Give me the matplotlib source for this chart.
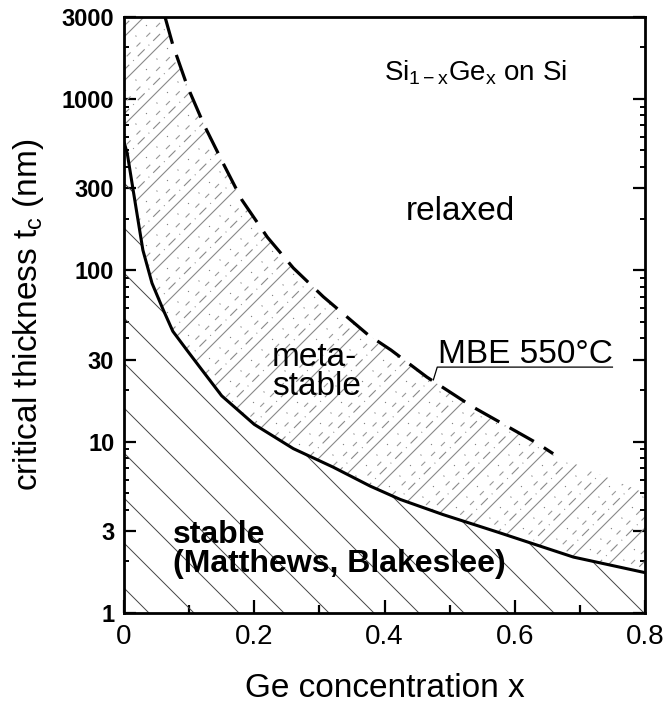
import numpy as np
import matplotlib
matplotlib.use('Agg')
import matplotlib.pyplot as plt
from matplotlib.patches import Polygon
from matplotlib.ticker import FixedLocator, NullFormatter

plt.rcParams['font.family'] = ['Liberation Sans', 'DejaVu Sans']
plt.rcParams['mathtext.fontset'] = 'custom'
plt.rcParams['mathtext.rm'] = 'Liberation Sans'
plt.rcParams['mathtext.it'] = 'Liberation Sans'
plt.rcParams['lines.scale_dashes'] = False

# Matthews-Blakeslee critical thickness (solid line)
mb_x = [0, 0.005, 0.014, 0.029, 0.043, 0.06, 0.075, 0.097, 0.117, 0.15, 0.2, 0.26,
        0.321, 0.378, 0.424, 0.49, 0.573, 0.69, 0.8]
mb_y = [560, 480, 294, 131, 84, 59, 44, 34, 27, 18.5, 12.6, 9.1,
        7.1, 5.5, 4.6, 3.75, 2.97, 2.12, 1.72]

# MBE at 550 C (dashed line)
mbe_x = [0.063, 0.075, 0.097, 0.123, 0.152, 0.181, 0.22, 0.26, 0.306, 0.375,
         0.41, 0.465, 0.536, 0.593, 0.634, 0.659]
mbe_y = [3000, 2060, 1190, 703, 422, 257, 156, 103, 70, 41.9,
         34.2, 23.8, 15.9, 12, 9.8, 8.5]

# the metastable hatching goes on past the end of the dashed line
ext_x = [0.7, 0.75, 0.8]
ext_y = [7.2, 6.0, 5.0]

x_ticks = [0, 0.2, 0.4, 0.6, 0.8]
x_minor = [0.1, 0.3, 0.5, 0.7]
y_ticks = [1, 3, 10, 30, 100, 300, 1000, 3000]
y_minor = [2, 4, 5, 6, 7, 8, 9, 20, 40, 50, 60, 70, 80, 90,
           200, 400, 500, 600, 700, 800, 900, 2000]

fig = plt.figure(figsize=(6.67, 7.09), dpi=100)
ax = fig.add_axes([124/667, 96/709, 521/667, 596/709])
ax.set_yscale('log')
ax.set_xlim(0, 0.8)
ax.set_ylim(1, 3000)

W = ax.bbox.width
H = ax.bbox.height

# regions
stable_pts = list(zip(mb_x, mb_y)) + [(0.8, 1), (0, 1)]
top_x = [0] + mbe_x + ext_x
top_y = [3000] + mbe_y + ext_y
meta_pts = list(zip(mb_x, mb_y)) + list(zip(top_x[::-1], top_y[::-1]))

stable_poly = Polygon(stable_pts, closed=True, fill=False, lw=0, transform=ax.transData)
meta_poly = Polygon(meta_pts, closed=True, fill=False, lw=0, transform=ax.transData)
ax.add_patch(stable_poly)
ax.add_patch(meta_poly)


def hatch(poly, sign, spacing, offset, **kw):
    # straight 45 degree lines (in pixels), clipped to the region
    for a in np.arange(-H - 200 + offset, W + H + 200, spacing):
        x0 = a / W
        x1 = (a + sign * H) / W
        ln, = ax.plot([x0, x1], [0, 1], transform=ax.transAxes, **kw)
        ln.set_clip_path(poly)


# stable: "\" lines
hatch(stable_poly, -1, 45, 11, color='#444444', lw=0.7)

# metastable: "/" lines, solid + dotted + dashed + dash-dot
P = 44
hatch(meta_poly, 1, P, 0, color='#888888', lw=0.8)
hatch(meta_poly, 1, P, 11, color='#777777', lw=0.9, linestyle=(0, (0.7, 10)))
hatch(meta_poly, 1, P, 22, color='#999999', lw=0.8, linestyle=(0, (4, 6)))
hatch(meta_poly, 1, P, 33, color='#8a8a8a', lw=0.8, linestyle=(0, (7, 4, 0.7, 4)))

# curves
ax.plot(mb_x, mb_y, color='black', lw=2.2, solid_capstyle='butt')
ax.plot(mbe_x, mbe_y, color='black', lw=2.3, linestyle=(0, (20, 8.5)))

# labels in the plot
ax.text(0.539, 1414, 'Si$_{\\mathrm{1-x}}$Ge$_{\\mathrm{x}}$ on Si', fontsize=20,
        ha='center', va='center')
ax.text(0.516, 219, 'relaxed', fontsize=24, ha='center', va='center')
ax.text(0.227, 25.5, 'meta-\nstable', fontsize=24, ha='left', va='center',
        linespacing=0.95)
ax.text(0.617, 28.7, 'MBE 550°C', fontsize=24, ha='center', va='baseline')
ax.plot([0.75, 0.481, 0.475], [27.2, 27.2, 22.9], color='black', lw=0.9)
ax.text(0.075, 2.35, 'stable\n(Matthews, Blakeslee)', fontsize=23,
        fontweight='bold', ha='left', va='center', linespacing=0.95)

# axes
for s in ax.spines.values():
    s.set_linewidth(2.0)

ax.xaxis.set_major_locator(FixedLocator(x_ticks))
ax.xaxis.set_minor_locator(FixedLocator(x_minor))
ax.set_xticklabels(['0', '0.2', '0.4', '0.6', '0.8'],
                   family=['Liberation Sans Narrow', 'Liberation Sans'], fontsize=20)
ax.yaxis.set_major_locator(FixedLocator(y_ticks))
ax.yaxis.set_minor_locator(FixedLocator(y_minor))
ax.yaxis.set_minor_formatter(NullFormatter())
ax.set_yticklabels([str(v) for v in y_ticks],
                   family=['Liberation Sans Narrow', 'Liberation Sans'],
                   fontweight='bold', fontsize=17)

ax.tick_params(axis='x', which='both', direction='in', top=False, bottom=True, pad=8)
ax.tick_params(axis='x', which='major', length=9.5, width=1.6)
ax.tick_params(axis='x', which='minor', length=5.8, width=1.6)
ax.tick_params(axis='y', which='both', direction='in', left=True, right=True, pad=7)
ax.tick_params(axis='y', which='major', length=8.5, width=1.6)
ax.tick_params(axis='y', which='minor', length=3.8, width=1.4)

ax.set_xlabel('Ge concentration x', fontsize=24)
ax.set_ylabel('critical thickness t$_\\mathrm{c}$ (nm)', fontsize=24)
ax.xaxis.set_label_coords(0.5, -0.1)
ax.yaxis.set_label_coords(-0.15, 0.5)

fig.savefig('out.png', dpi=100)
